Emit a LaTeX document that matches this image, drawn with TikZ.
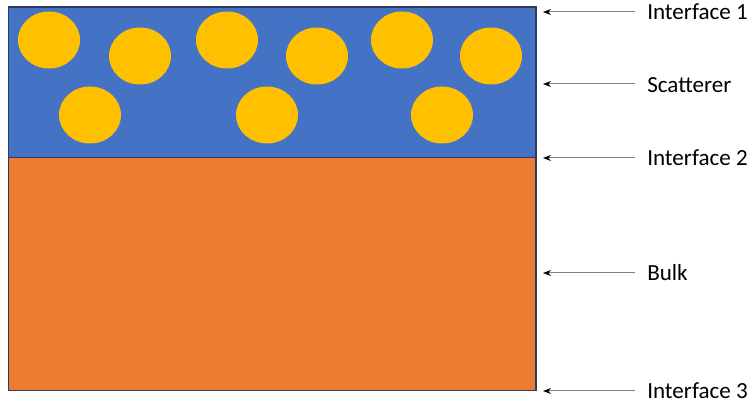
\documentclass[tikz,border=0pt]{standalone}
\usepackage{fontspec}
\setmainfont{Carlito}
\usetikzlibrary{arrows.meta}
\definecolor{scblue}{HTML}{4472C4}
\definecolor{bkorange}{HTML}{ED7D31}
\definecolor{ptyellow}{HTML}{FFC000}
\definecolor{edgenavy}{HTML}{2F3B5C}
\definecolor{arrgray}{HTML}{7F7F7F}
\begin{document}
\begin{tikzpicture}[x=0.75pt,y=-0.75pt,
  particle/.style={fill=ptyellow,draw=none},
  label/.style={anchor=west,inner sep=0pt,font=\fontsize{17.3}{20}\selectfont},
  pointer/.style={draw=arrgray,line width=0.75pt,-{Stealth[length=6pt,width=4.5pt,black]}}]
\useasboundingbox (0,0) rectangle (753,409);
\fill[scblue] (8.5,7) rectangle (536,157.5);
\fill[bkorange] (8.5,157.5) rectangle (536,390.5);
\foreach \cx/\cy in {49/40,140/56,227/40,317/56,402/40,491/56,90/115,267/115,442/115}
  \fill[particle] (\cx,\cy) ellipse [x radius=31,y radius=28.5];
\draw[edgenavy,line width=1.1pt] (8.5,7) rectangle (536,390.5);
\draw[edgenavy,line width=1.1pt] (8.5,157.5) -- (536,157.5);
\node[label] (i1) at (647,12) {Interface 1};
\node[label] (sc) at (647,85) {Scatterer};
\node[label] (i2) at (647,158) {Interface 2};
\node[label] (bk) at (647,273) {Bulk};
\node[label] (i3) at (647,391) {Interface 3};
\coordinate (t1) at (543,12);
\coordinate (t2) at (543,84);
\coordinate (t3) at (543,158);
\coordinate (t4) at (543,273);
\coordinate (t5) at (543,391);
\draw[pointer] ([xshift=-9pt]i1.west) -- (t1);
\draw[pointer] ([xshift=-9pt]sc.west|-t2) -- (t2);
\draw[pointer] ([xshift=-9pt]i2.west) -- (t3);
\draw[pointer] ([xshift=-9pt]bk.west) -- (t4);
\draw[pointer] ([xshift=-9pt]i3.west) -- (t5);
\end{tikzpicture}
\end{document}
